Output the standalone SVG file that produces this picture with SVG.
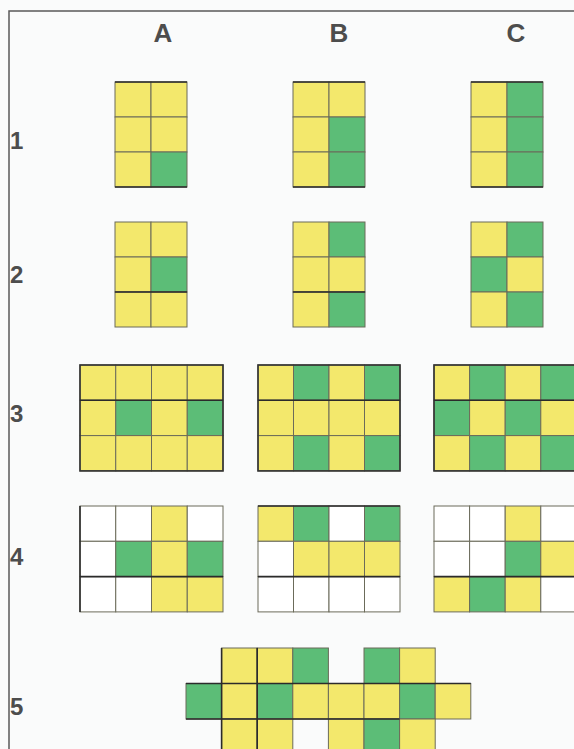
<svg xmlns="http://www.w3.org/2000/svg" width="574" height="749" viewBox="0 0 574 749">
<style>
.y{fill:#f3e86c}
.g{fill:#5cbd77}
.w{fill:#ffffff}
rect.y,rect.g,rect.w{stroke:#6b6b5a;stroke-width:1}
.o{fill:none;stroke:#333;stroke-width:1.6}
.d{stroke:#2b2b2b;stroke-width:1.6}
.lbl{font-family:"Liberation Sans",Arial,sans-serif;font-weight:bold;fill:#4d4d4d;text-anchor:middle}
.frame{stroke:#5a5a5a;stroke-width:1.5;fill:none}
</style>
<rect x="0" y="0" width="574" height="749" fill="#fafbfb"/>
<path class="frame" d="M9,749 V11 H574"/>
<g id="col-labels" class="lbl" font-size="26">
<text x="163" y="42">A</text>
<text x="339" y="42">B</text>
<text x="516" y="42">C</text>
</g>
<g id="row-labels" class="lbl" font-size="24" style="text-anchor:start">
<text x="10" y="149">1</text>
<text x="10" y="283">2</text>
<text x="10" y="422">3</text>
<text x="10" y="565">4</text>
<text x="10" y="715">5</text>
</g>
<g id="A1" transform="translate(115,82)">
<rect class="y" x="0" y="0" width="36" height="35"/><rect class="y" x="36" y="0" width="36" height="35"/>
<rect class="y" x="0" y="35" width="36" height="35"/><rect class="y" x="36" y="35" width="36" height="35"/>
<rect class="y" x="0" y="70" width="36" height="35"/><rect class="g" x="36" y="70" width="36" height="35"/>
<line class="d" x1="0" y1="0" x2="72" y2="0"/><line class="d" x1="0" y1="105" x2="72" y2="105"/>
</g>
<g id="B1" transform="translate(293,82)">
<rect class="y" x="0" y="0" width="36" height="35"/><rect class="y" x="36" y="0" width="36" height="35"/>
<rect class="y" x="0" y="35" width="36" height="35"/><rect class="g" x="36" y="35" width="36" height="35"/>
<rect class="y" x="0" y="70" width="36" height="35"/><rect class="g" x="36" y="70" width="36" height="35"/>
<line class="d" x1="0" y1="0" x2="72" y2="0"/><line class="d" x1="0" y1="105" x2="72" y2="105"/>
</g>
<g id="C1" transform="translate(471,82)">
<rect class="y" x="0" y="0" width="36" height="35"/><rect class="g" x="36" y="0" width="36" height="35"/>
<rect class="y" x="0" y="35" width="36" height="35"/><rect class="g" x="36" y="35" width="36" height="35"/>
<rect class="y" x="0" y="70" width="36" height="35"/><rect class="g" x="36" y="70" width="36" height="35"/>
<line class="d" x1="0" y1="0" x2="72" y2="0"/><line class="d" x1="0" y1="105" x2="72" y2="105"/>
</g>
<g id="A2" transform="translate(115,222)">
<rect class="y" x="0" y="0" width="36" height="35"/><rect class="y" x="36" y="0" width="36" height="35"/>
<rect class="y" x="0" y="35" width="36" height="35"/><rect class="g" x="36" y="35" width="36" height="35"/>
<rect class="y" x="0" y="70" width="36" height="35"/><rect class="y" x="36" y="70" width="36" height="35"/>
<line class="d" x1="0" y1="70" x2="72" y2="70"/>
</g>
<g id="B2" transform="translate(293,222)">
<rect class="y" x="0" y="0" width="36" height="35"/><rect class="g" x="36" y="0" width="36" height="35"/>
<rect class="y" x="0" y="35" width="36" height="35"/><rect class="y" x="36" y="35" width="36" height="35"/>
<rect class="y" x="0" y="70" width="36" height="35"/><rect class="g" x="36" y="70" width="36" height="35"/>
<line class="d" x1="0" y1="70" x2="72" y2="70"/>
</g>
<g id="C2" transform="translate(471,222)">
<rect class="y" x="0" y="0" width="36" height="35"/><rect class="g" x="36" y="0" width="36" height="35"/>
<rect class="g" x="0" y="35" width="36" height="35"/><rect class="y" x="36" y="35" width="36" height="35"/>
<rect class="y" x="0" y="70" width="36" height="35"/><rect class="g" x="36" y="70" width="36" height="35"/>
</g>
<g id="A3" transform="translate(80,365)">
<rect class="y" x="0" y="0" width="35.75" height="35.3"/><rect class="y" x="35.75" y="0" width="35.75" height="35.3"/><rect class="y" x="71.5" y="0" width="35.75" height="35.3"/><rect class="y" x="107.25" y="0" width="35.75" height="35.3"/>
<rect class="y" x="0" y="35.3" width="35.75" height="35.3"/><rect class="g" x="35.75" y="35.3" width="35.75" height="35.3"/><rect class="y" x="71.5" y="35.3" width="35.75" height="35.3"/><rect class="g" x="107.25" y="35.3" width="35.75" height="35.3"/>
<rect class="y" x="0" y="70.6" width="35.75" height="35.3"/><rect class="y" x="35.75" y="70.6" width="35.75" height="35.3"/><rect class="y" x="71.5" y="70.6" width="35.75" height="35.3"/><rect class="y" x="107.25" y="70.6" width="35.75" height="35.3"/>
<rect class="o" x="0" y="0" width="143" height="105.9"/><line class="d" x1="0" y1="35.3" x2="143" y2="35.3"/>
</g>
<g id="B3" transform="translate(258,365)">
<rect class="y" x="0" y="0" width="35.5" height="35.3"/><rect class="g" x="35.5" y="0" width="35.5" height="35.3"/><rect class="y" x="71" y="0" width="35.5" height="35.3"/><rect class="g" x="106.5" y="0" width="35.5" height="35.3"/>
<rect class="y" x="0" y="35.3" width="35.5" height="35.3"/><rect class="y" x="35.5" y="35.3" width="35.5" height="35.3"/><rect class="y" x="71" y="35.3" width="35.5" height="35.3"/><rect class="y" x="106.5" y="35.3" width="35.5" height="35.3"/>
<rect class="y" x="0" y="70.6" width="35.5" height="35.3"/><rect class="g" x="35.5" y="70.6" width="35.5" height="35.3"/><rect class="y" x="71" y="70.6" width="35.5" height="35.3"/><rect class="g" x="106.5" y="70.6" width="35.5" height="35.3"/>
<rect class="o" x="0" y="0" width="142" height="105.9"/><line class="d" x1="0" y1="35.3" x2="142" y2="35.3"/>
</g>
<g id="C3" transform="translate(434,365)">
<rect class="y" x="0" y="0" width="35.6" height="35.3"/><rect class="g" x="35.6" y="0" width="35.6" height="35.3"/><rect class="y" x="71.2" y="0" width="35.6" height="35.3"/><rect class="g" x="106.8" y="0" width="35.6" height="35.3"/>
<rect class="g" x="0" y="35.3" width="35.6" height="35.3"/><rect class="y" x="35.6" y="35.3" width="35.6" height="35.3"/><rect class="g" x="71.2" y="35.3" width="35.6" height="35.3"/><rect class="y" x="106.8" y="35.3" width="35.6" height="35.3"/>
<rect class="y" x="0" y="70.6" width="35.6" height="35.3"/><rect class="g" x="35.6" y="70.6" width="35.6" height="35.3"/><rect class="y" x="71.2" y="70.6" width="35.6" height="35.3"/><rect class="g" x="106.8" y="70.6" width="35.6" height="35.3"/>
<rect class="o" x="0" y="0" width="142.4" height="105.9"/><line class="d" x1="0" y1="35.3" x2="142.4" y2="35.3"/>
</g>
<g id="A4" transform="translate(80,506)">
<rect class="w" x="0" y="0" width="35.75" height="35.3"/><rect class="w" x="35.75" y="0" width="35.75" height="35.3"/><rect class="y" x="71.5" y="0" width="35.75" height="35.3"/><rect class="w" x="107.25" y="0" width="35.75" height="35.3"/>
<rect class="w" x="0" y="35.3" width="35.75" height="35.3"/><rect class="g" x="35.75" y="35.3" width="35.75" height="35.3"/><rect class="y" x="71.5" y="35.3" width="35.75" height="35.3"/><rect class="g" x="107.25" y="35.3" width="35.75" height="35.3"/>
<rect class="w" x="0" y="70.6" width="35.75" height="35.3"/><rect class="w" x="35.75" y="70.6" width="35.75" height="35.3"/><rect class="y" x="71.5" y="70.6" width="35.75" height="35.3"/><rect class="y" x="107.25" y="70.6" width="35.75" height="35.3"/>
<line class="d" x1="0" y1="70.6" x2="143" y2="70.6"/><line class="d" x1="0" y1="0" x2="0" y2="105.9"/>
</g>
<g id="B4" transform="translate(258,506)">
<rect class="y" x="0" y="0" width="35.5" height="35.3"/><rect class="g" x="35.5" y="0" width="35.5" height="35.3"/><rect class="w" x="71" y="0" width="35.5" height="35.3"/><rect class="g" x="106.5" y="0" width="35.5" height="35.3"/>
<rect class="w" x="0" y="35.3" width="35.5" height="35.3"/><rect class="y" x="35.5" y="35.3" width="35.5" height="35.3"/><rect class="y" x="71" y="35.3" width="35.5" height="35.3"/><rect class="y" x="106.5" y="35.3" width="35.5" height="35.3"/>
<rect class="w" x="0" y="70.6" width="35.5" height="35.3"/><rect class="w" x="35.5" y="70.6" width="35.5" height="35.3"/><rect class="w" x="71" y="70.6" width="35.5" height="35.3"/><rect class="w" x="106.5" y="70.6" width="35.5" height="35.3"/>
<line class="d" x1="0" y1="70.6" x2="142" y2="70.6"/><line class="d" x1="0" y1="0" x2="142" y2="0"/>
</g>
<g id="C4" transform="translate(434,506)">
<rect class="w" x="0" y="0" width="35.6" height="35.3"/><rect class="w" x="35.6" y="0" width="35.6" height="35.3"/><rect class="y" x="71.2" y="0" width="35.6" height="35.3"/><rect class="w" x="106.8" y="0" width="35.6" height="35.3"/>
<rect class="w" x="0" y="35.3" width="35.6" height="35.3"/><rect class="w" x="35.6" y="35.3" width="35.6" height="35.3"/><rect class="g" x="71.2" y="35.3" width="35.6" height="35.3"/><rect class="y" x="106.8" y="35.3" width="35.6" height="35.3"/>
<rect class="y" x="0" y="70.6" width="35.6" height="35.3"/><rect class="g" x="35.6" y="70.6" width="35.6" height="35.3"/><rect class="y" x="71.2" y="70.6" width="35.6" height="35.3"/><rect class="w" x="106.8" y="70.6" width="35.6" height="35.3"/>
<line class="d" x1="0" y1="70.6" x2="142.4" y2="70.6"/>
</g>
<g id="N5" transform="translate(186,648)">
<rect class="y" x="35.6" y="0" width="35.6" height="35.5"/><rect class="y" x="71.2" y="0" width="35.6" height="35.5"/><rect class="g" x="106.8" y="0" width="35.6" height="35.5"/><rect class="g" x="178" y="0" width="35.6" height="35.5"/><rect class="y" x="213.6" y="0" width="35.6" height="35.5"/>
<rect class="g" x="0" y="35.5" width="35.6" height="35.5"/><rect class="y" x="35.6" y="35.5" width="35.6" height="35.5"/><rect class="g" x="71.2" y="35.5" width="35.6" height="35.5"/><rect class="y" x="106.8" y="35.5" width="35.6" height="35.5"/><rect class="y" x="142.4" y="35.5" width="35.6" height="35.5"/><rect class="y" x="178" y="35.5" width="35.6" height="35.5"/><rect class="g" x="213.6" y="35.5" width="35.6" height="35.5"/><rect class="y" x="249.2" y="35.5" width="35.6" height="35.5"/>
<rect class="y" x="35.6" y="71" width="35.6" height="35.5"/><rect class="y" x="71.2" y="71" width="35.6" height="35.5"/><rect class="y" x="142.4" y="71" width="35.6" height="35.5"/><rect class="g" x="178" y="71" width="35.6" height="35.5"/><rect class="y" x="213.6" y="71" width="35.6" height="35.5"/>
<line class="d" x1="0" y1="35.5" x2="284.8" y2="35.5"/><line class="d" x1="0" y1="71" x2="213.6" y2="71"/>
<line class="d" x1="35.6" y1="0" x2="35.6" y2="106.5"/><line class="d" x1="71.2" y1="0" x2="71.2" y2="106.5"/>
</g>
</svg>
